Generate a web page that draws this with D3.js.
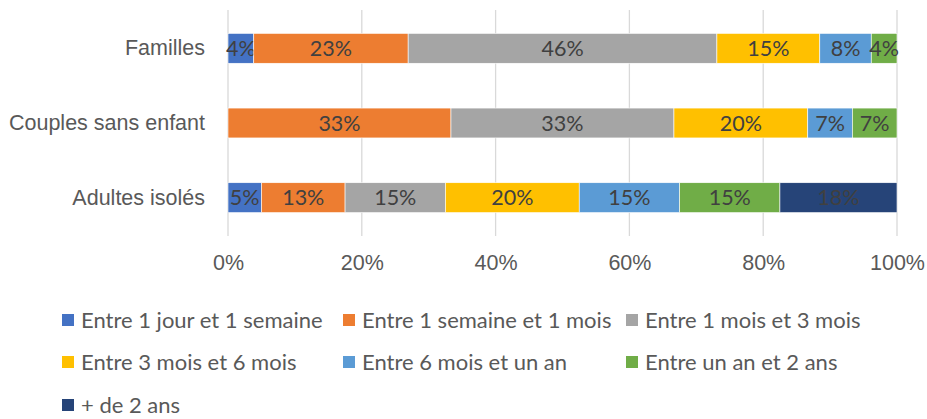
<!DOCTYPE html>
<html>
<head>
<meta charset="utf-8">
<script src="https://cdn.jsdelivr.net/npm/d3@7"></script>
<style>
  body { margin: 0; background: #fff; }
  svg { display: block; font-family: Lato, "Open Sans", sans-serif; }
</style>
</head>
<body>
<svg width="927" height="419"></svg>
<script>
// categories (top to bottom)
const categories = ["Familles", "Couples sans enfant", "Adultes isolés"];

// series names
const seriesNames = [
  "Entre 1 jour et 1 semaine",
  "Entre 1 semaine et 1 mois",
  "Entre 1 mois et 3 mois",
  "Entre 3 mois et 6 mois",
  "Entre 6 mois et un an",
  "Entre un an et 2 ans",
  "+ de 2 ans"
];

// share of each category (%)
const entre1jour = [3.85, 0, 5];
const entre1semaine = [23.08, 33.33, 12.5];
const entre1mois = [46.15, 33.33, 15];
const entre3mois = [15.38, 20, 20];
const entre6mois = [7.69, 6.67, 15];
const entreUnAn = [3.85, 6.67, 15];
const plusDe2ans = [0, 0, 17.5];

// x-axis ticks
const xTicks = [0, 20, 40, 60, 80, 100];

const seriesValues = [entre1jour, entre1semaine, entre1mois, entre3mois, entre6mois, entreUnAn, plusDe2ans];
const colors = ["#4472C4", "#ED7D31", "#A5A5A5", "#FFC000", "#5B9BD5", "#70AD47", "#264478"];

var svg = d3.select("svg"),
  plotLeft = 228,
  plotRight = 897,
  plotTop = 11,
  plotBottom = 235,
  fontSize = "21.5px";

// table built from the arrays above
var rows = categories.map((c, i) => {
  var row = { category: c };
  seriesNames.forEach((s, j) => (row[s] = seriesValues[j][i]));
  return row;
});

var stacked = d3.stack().keys(seriesNames)(rows);

var xScale = d3.scaleLinear().domain([0, 100]).range([plotLeft, plotRight]);
var yScale = d3.scaleBand().domain(categories).range([plotTop, plotBottom]).paddingInner(0.6).paddingOuter(0.3);

// ===========================================================================
// GRID + X-AXIS
// ===========================================================================
svg.append("g")
  .selectAll("line")
  .data(xTicks)
  .enter()
  .append("line")
  .attr("x1", (d) => xScale(d))
  .attr("x2", (d) => xScale(d))
  .attr("y1", plotTop - 1)
  .attr("y2", plotBottom + 1)
  .attr("stroke", "#D9D9D9")
  .attr("stroke-width", 1.3);

var xAxis = svg.append("g")
  .attr("transform", "translate(0," + (plotBottom + 19) + ")")
  .call(d3.axisBottom(xScale).tickValues(xTicks).tickFormat((d) => d + "%").tickSize(0).tickPadding(0));
xAxis.select(".domain").remove();
xAxis.selectAll("text")
  .attr("fill", "#595959")
  .style("font-size", fontSize)
  .attr("dy", "0.75em");

// ===========================================================================
// Y-AXIS
// ===========================================================================
var yAxis = svg.append("g")
  .attr("transform", "translate(" + (plotLeft - 23) + ",0)")
  .call(d3.axisLeft(yScale).tickSize(0).tickPadding(0));
yAxis.select(".domain").remove();
yAxis.selectAll("text")
  .attr("fill", "#595959")
  .style("font-size", fontSize);

// ===========================================================================
// BARS
// ===========================================================================
var layers = svg.append("g")
  .selectAll("g")
  .data(stacked)
  .enter()
  .append("g")
  .attr("fill", (d, i) => colors[i]);

layers.selectAll("rect")
  .data((d) => d.filter((p) => p[1] - p[0] > 0))
  .enter()
  .append("rect")
  .attr("x", (d) => xScale(d[0]))
  .attr("y", (d) => yScale(d.data.category))
  .attr("width", (d) => xScale(d[1]) - xScale(d[0]))
  .attr("height", yScale.bandwidth())
  .attr("stroke", "#fff")
  .attr("stroke-width", 0.6);

// data labels
layers.selectAll("text")
  .data((d) => d.filter((p) => p[1] - p[0] > 0))
  .enter()
  .append("text")
  .attr("x", (d) => (xScale(d[0]) + xScale(d[1])) / 2)
  .attr("y", (d) => yScale(d.data.category) + yScale.bandwidth() / 2)
  .attr("text-anchor", "middle")
  .attr("dy", "0.35em")
  .attr("fill", "#404040")
  .style("font-size", fontSize)
  .text((d) => Math.round(d[1] - d[0]) + "%");

// ===========================================================================
// LEGEND
// ===========================================================================
var legendX = [62, 343, 626],
  legendY = [320, 362, 405];

var legend = svg.append("g")
  .selectAll("g")
  .data(seriesNames)
  .enter()
  .append("g")
  .attr("transform", (d, i) => "translate(" + legendX[i % 3] + "," + legendY[Math.floor(i / 3)] + ")");

legend.append("rect")
  .attr("x", 0)
  .attr("y", -6)
  .attr("width", 12)
  .attr("height", 12)
  .attr("fill", (d, i) => colors[i]);

legend.append("text")
  .attr("x", 19)
  .attr("dy", "0.35em")
  .attr("fill", "#595959")
  .style("font-size", "22px")
  .text((d) => d);
</script>
</body>
</html>
